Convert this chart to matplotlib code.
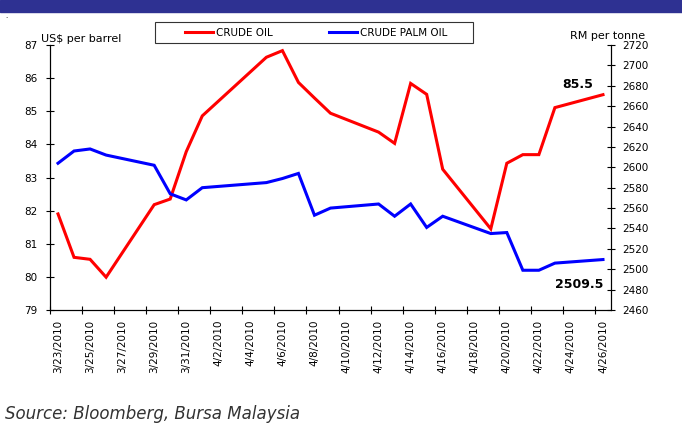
import numpy as np
import pandas as pd
import matplotlib
matplotlib.use('Agg')
import matplotlib.pyplot as plt
import matplotlib.dates as mdates
from matplotlib.lines import Line2D
from matplotlib.patches import Rectangle

# trading days, 2010
dates = pd.to_datetime([
    '2010-03-23', '2010-03-24', '2010-03-25', '2010-03-26', '2010-03-29',
    '2010-03-30', '2010-03-31', '2010-04-01', '2010-04-05', '2010-04-06',
    '2010-04-07', '2010-04-08', '2010-04-09', '2010-04-12', '2010-04-13',
    '2010-04-14', '2010-04-15', '2010-04-16', '2010-04-19', '2010-04-20',
    '2010-04-21', '2010-04-22', '2010-04-23', '2010-04-26'])
crude_oil = [81.90, 80.59, 80.53, 79.99, 82.18, 82.35, 83.78, 84.86, 86.63, 86.83,
             85.87, 85.40, 84.94, 84.37, 84.03, 85.84, 85.51, 83.25, 81.45, 83.43,
             83.69, 83.69, 85.11, 85.50]
palm_oil = [2604, 2616, 2618, 2612, 2602, 2574, 2568, 2580, 2585, 2589,
            2594, 2553, 2560, 2564, 2552, 2564, 2541, 2552, 2535, 2536,
            2499, 2499, 2506, 2509.5]
label_dates = pd.date_range('2010-03-23', '2010-04-26', freq='2D')
left_ticks = list(range(79, 88))
right_ticks = list(range(2460, 2721, 20))

W, H = 682, 425
fig = plt.figure(figsize=(W / 100, H / 100), dpi=100)
fs = 7.5

# top banner
fig.patches.append(Rectangle((0, 1 - 12 / H), 1, 12 / H, transform=fig.transFigure,
                             color='#2e3192', zorder=0))
fig.text(5 / W, 1 - 16 / H, '.', fontsize=5, ha='left', va='center')

ax = fig.add_axes([50 / W, 1 - 310 / H, (611 - 50) / W, (310 - 45) / H])
ax2 = ax.twinx()

x = mdates.date2num(dates)
ax.plot(x, crude_oil, color='#ff0000', lw=2.2, solid_joinstyle='miter')
ax2.plot(x, palm_oil, color='#0000ff', lw=2.2, solid_joinstyle='miter')

x0 = mdates.date2num(pd.Timestamp('2010-03-22 12:00'))
x1 = mdates.date2num(pd.Timestamp('2010-04-26 12:00'))
ax.set_xlim(x0, x1)
ax.set_ylim(79, 87)
ax2.set_ylim(2460, 2720)

# ticks at category boundaries, labels at the dates
ax.set_xticks(np.arange(x0, x1 + 0.01, 2))
ax.set_xticklabels([])
ax.set_xticks(mdates.date2num(label_dates), minor=True)
ax.set_xticklabels([f'{d.month}/{d.day}/{d.year}' for d in label_dates],
                   minor=True, rotation=90, fontsize=fs)
ax.tick_params(axis='x', which='major', direction='inout', length=6, width=0.8)
ax.tick_params(axis='x', which='minor', length=0, pad=7)

ax.set_yticks(left_ticks)
ax.tick_params(axis='y', direction='inout', length=6, width=0.8, labelsize=fs, pad=6)
ax2.set_yticks(right_ticks)
ax2.tick_params(axis='y', direction='inout', length=6, width=0.8, labelsize=fs, pad=5)

for a in (ax, ax2):
    a.spines['top'].set_visible(False)
    for s in ('left', 'right', 'bottom'):
        a.spines[s].set_linewidth(0.8)

fig.text(41 / W, 1 - 39 / H, 'US$ per barrel', fontsize=8, ha='left', va='center')
fig.text(570 / W, 1 - 36 / H, 'RM per tonne', fontsize=8, ha='left', va='center')

ax.annotate(f'{crude_oil[-1]:g}', (x[-1], crude_oil[-1]), xytext=(-7, 3),
            textcoords='offset points', ha='right', va='bottom',
            fontsize=9, fontweight='bold')
ax2.annotate(f'{palm_oil[-1]:g}', (x[-1], palm_oil[-1]), xytext=(0, -13.5),
             textcoords='offset points', ha='right', va='top',
             fontsize=9, fontweight='bold')

# legend box
fig.patches.append(Rectangle((155 / W, 1 - 43 / H), (473 - 155) / W, 21 / H,
                             transform=fig.transFigure, facecolor='white',
                             edgecolor='#333333', lw=0.8, zorder=1))
handles = [Line2D([], [], color='#ff0000', lw=2.2), Line2D([], [], color='#0000ff', lw=2.2)]
leg = fig.legend(handles, ['CRUDE OIL', 'CRUDE PALM OIL'], ncol=2,
                 loc='center left', bbox_to_anchor=(185 / W, 1 - 32.5 / H),
                 fontsize=fs, frameon=False, handlelength=2.7,
                 handletextpad=0.3, columnspacing=5.4, borderpad=0,
                 borderaxespad=0)

fig.text(5 / W, 1 - 414 / H, 'Source: Bloomberg, Bursa Malaysia', fontsize=12,
         style='italic', color='#333333', ha='left', va='center')

fig.savefig('out.png', dpi=100)
